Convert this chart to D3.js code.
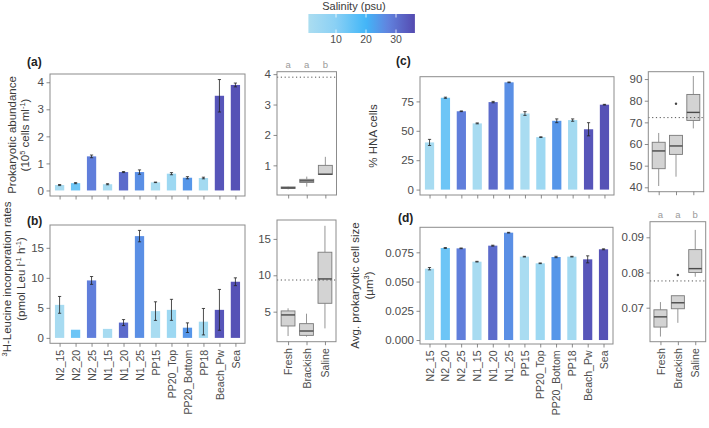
<!DOCTYPE html>
<html><head><meta charset="utf-8">
<script src="https://cdn.jsdelivr.net/npm/d3@7"></script>
<style>
html,body{margin:0;padding:0;background:#fff;}
svg{display:block;font-family:"Liberation Sans",Arial,Helvetica,sans-serif;}
</style></head>
<body>
<svg id="chart" width="709" height="428"></svg>
<script>
// ---------- DATA ----------
const sites = ["N2_15","N2_20","N2_25","N1_15","N1_20","N1_25","PP15","PP20_Top","PP20_Bottom","PP18","Beach_Pw","Sea"];
const salinity = [2, 14, 28, 2, 31, 25.5, 1.5, 4.5, 24.5, 3, 34.5, 35];

const abundance   = [0.20, 0.27, 1.26, 0.23, 0.68, 0.68, 0.30, 0.62, 0.47, 0.46, 3.50, 3.90];
const abundanceSE = [0.02, 0.02, 0.05, 0.02, 0.02, 0.08, 0.01, 0.04, 0.04, 0.03, 0.60, 0.07];

const leucine   = [5.5, 1.36, 9.57, 1.5, 2.55, 16.95, 4.46, 4.67, 1.7, 2.7, 4.67, 9.35];
const leucineSE = [1.4, 0, 0.65, 0, 0.5, 0.95, 1.55, 1.75, 0.8, 2.2, 3.4, 0.65];

const hna   = [40.1, 78.1, 66.6, 56.3, 74.4, 91.2, 64.7, 44.6, 58.5, 59.1, 51.3, 72.2];
const hnaSE = [2.6, 0.5, 0.3, 0.4, 0.6, 0.3, 1.6, 0.3, 1.6, 1.0, 5.6, 0.3];

const cellSize   = [0.0610, 0.0787, 0.0784, 0.0670, 0.0807, 0.0918, 0.0713, 0.0656, 0.0710, 0.0713, 0.0690, 0.0776];
const cellSizeSE = [0.0010, 0.0004, 0.0003, 0.0003, 0.0004, 0.0003, 0.0003, 0.0003, 0.0006, 0.0003, 0.0030, 0.0004];

const groups = ["Fresh","Brackish","Saline"];
// box stats: [lower whisker, q1, median, q3, upper whisker]
const abundanceBox = [[0.21,0.24,0.26,0.29,0.30],[0.30,0.435,0.49,0.54,0.63],[0.69,0.70,0.71,1.00,1.28]];
const abundanceOut = [[],[],[]];
const leucineBox = [[1.65,3.03,4.55,5.10,5.46],[1.56,1.74,2.34,3.35,4.72],[2.70,6.15,9.50,13.17,16.8]];
const leucineOut = [[],[],[]];
const hnaBox = [[40.6,48.6,56.8,60.8,65.1],[44.9,55.2,59.1,64.0,64.0],[67.2,70.9,74.6,82.9,91.4]];
const hnaOut = [[],[78.6],[]];
const cellSizeBox = [[0.0618,0.0645,0.0674,0.0694,0.0716],[0.0657,0.0697,0.0714,0.0734,0.0734],[0.0788,0.0800,0.0811,0.0865,0.0921]];
const cellSizeOut = [[],[0.0793],[]];

const abundanceLetters = ["a","a","b"];
const cellSizeLetters = ["a","a","b"];

const legendTicks = [10, 20, 30];
const legendRange = [0.8, 36.3];

// ---------- STYLE ----------
const svg = d3.select("#chart");
const colour = d3.scaleLinear()
  .domain([0, 10, 20, 27, 36])
  .range(["#9ad6ec", "#6cc4f2", "#12a4f6", "#3a66d8", "#2a1f9e"]);
const FILL_OP = 0.8;
const frameCol = "#8c8c8c", tickCol = "#6e6e6e", labelCol = "#4d4d4d";

function styleAxis(g, fs) {
  g.select(".domain").remove();
  g.selectAll(".tick line").attr("stroke", tickCol).attr("stroke-width", 0.8);
  g.selectAll(".tick text").attr("fill", labelCol).attr("font-size", fs).attr("font-family", "Liberation Sans, Arial, sans-serif");
}

function frame(x0, y0, x1, y1) {
  svg.append("rect").attr("x", x0).attr("y", y0).attr("width", x1 - x0).attr("height", y1 - y0)
    .attr("fill", "none").attr("stroke", frameCol).attr("stroke-width", 1);
}

function rotateLabels(g, off) {
  g.selectAll(".tick text")
    .attr("transform", "rotate(-90)")
    .attr("x", -off).attr("y", 0).attr("dy", "0.35em")
    .attr("text-anchor", "end");
}

function barPanel(cfg) {
  const [x0, y0, x1, y1] = cfg.box;
  const x = d3.scalePoint().domain(sites).range([x0, x1]).padding(0.6);
  const y = d3.scaleLinear().domain(cfg.domain).range([y1, y0]);
  const bw = x.step() * 0.58;
  const data = sites.map((s, i) => ({ s, v: cfg.values[i], se: cfg.se[i], sal: salinity[i] }));
  svg.append("g").selectAll("rect").data(data).join("rect")
    .attr("x", d => x(d.s) - bw / 2).attr("width", bw)
    .attr("y", d => y(d.v)).attr("height", d => y(0) - y(d.v))
    .attr("fill", d => colour(d.sal)).attr("fill-opacity", FILL_OP);
  const eb = svg.append("g").attr("stroke", "#222").attr("stroke-width", 0.8);
  data.filter(d => d.se > 0).forEach(d => {
    const cx = x(d.s);
    eb.append("line").attr("x1", cx).attr("x2", cx).attr("y1", y(d.v - d.se)).attr("y2", y(d.v + d.se));
    eb.append("line").attr("x1", cx - 1.6).attr("x2", cx + 1.6).attr("y1", y(d.v - d.se)).attr("y2", y(d.v - d.se));
    eb.append("line").attr("x1", cx - 1.6).attr("x2", cx + 1.6).attr("y1", y(d.v + d.se)).attr("y2", y(d.v + d.se));
  });
  frame(x0, y0, x1, y1);
  const ya = svg.append("g").attr("transform", `translate(${x0},0)`)
    .call(d3.axisLeft(y).tickValues(cfg.ticks).tickFormat(cfg.fmt).tickSize(3.5).tickPadding(2.5));
  styleAxis(ya, 11.5);
  const xa = svg.append("g").attr("transform", `translate(0,${y1})`)
    .call(d3.axisBottom(x).tickSize(3.5).tickPadding(2.5));
  styleAxis(xa, 10.5);
  if (cfg.labels) rotateLabels(xa, 6.5); else xa.selectAll(".tick text").remove();
}

function boxPanel(cfg) {
  const [x0, y0, x1, y1] = cfg.box;
  const x = d3.scalePoint().domain(groups).range([x0, x1]).padding(0.6);
  const y = d3.scaleLinear().domain(cfg.domain).range([y1, y0]);
  const bw = x.step() * 0.75;
  groups.forEach((gname, i) => {
    const [lo, q1, med, q3, hi] = cfg.stats[i];
    const cx = x(gname);
    const g = svg.append("g");
    g.append("line").attr("x1", cx).attr("x2", cx).attr("y1", y(lo)).attr("y2", y(q1)).attr("stroke", "#8a8a8a").attr("stroke-width", 0.9);
    g.append("line").attr("x1", cx).attr("x2", cx).attr("y1", y(q3)).attr("y2", y(hi)).attr("stroke", "#8a8a8a").attr("stroke-width", 0.9);
    g.append("rect").attr("x", cx - bw / 2).attr("width", bw).attr("y", y(q3)).attr("height", Math.max(y(q1) - y(q3), 0.5))
      .attr("fill", "#d3d3d3").attr("stroke", "#7a7a7a").attr("stroke-width", 0.9);
    g.append("line").attr("x1", cx - bw / 2).attr("x2", cx + bw / 2).attr("y1", y(med)).attr("y2", y(med))
      .attr("stroke", "#4a4a4a").attr("stroke-width", 1.4);
    cfg.out[i].forEach(o => g.append("circle").attr("cx", cx).attr("cy", y(o)).attr("r", 1.2).attr("fill", "#444"));
  });
  svg.append("line").attr("x1", x0).attr("x2", x1).attr("y1", y(cfg.ref)).attr("y2", y(cfg.ref))
    .attr("stroke", "#555").attr("stroke-width", 1).attr("stroke-dasharray", "1.2,2.6");
  frame(x0, y0, x1, y1);
  const ya = svg.append("g").attr("transform", `translate(${x0},0)`)
    .call(d3.axisLeft(y).tickValues(cfg.ticks).tickFormat(cfg.fmt).tickSize(3.5).tickPadding(2.5));
  styleAxis(ya, 11.5);
  const xa = svg.append("g").attr("transform", `translate(0,${y1})`)
    .call(d3.axisBottom(x).tickSize(3.5).tickPadding(2.5));
  styleAxis(xa, 10.5);
  if (cfg.labels) rotateLabels(xa, 6.5); else xa.selectAll(".tick text").remove();
  if (cfg.letters) {
    svg.append("g").selectAll("text").data(groups).join("text")
      .attr("x", d => x(d)).attr("y", y0 - 4).attr("text-anchor", "middle")
      .attr("font-size", 9.5).attr("fill", "#9a9a9a").text((d, i) => cfg.letters[i]);
  }
}

const fInt = d3.format("d");
const seaIdx = sites.indexOf("Sea");

// Panel (a)
barPanel({ box: [50, 74, 245, 196], domain: [-0.205, 4.305], values: abundance, se: abundanceSE, ticks: [0, 1, 2, 3, 4], fmt: fInt, labels: false });
boxPanel({ box: [277, 71.7, 336.5, 195], domain: [0.025, 4.08], stats: abundanceBox, out: abundanceOut, ref: abundance[seaIdx], ticks: [1, 2, 3, 4], fmt: fInt, labels: false, letters: abundanceLetters });
// Panel (b)
barPanel({ box: [50, 225, 245, 343.3], domain: [-0.9, 18.8], values: leucine, se: leucineSE, ticks: [0, 5, 10, 15], fmt: fInt, labels: true });
boxPanel({ box: [277, 220, 336, 341.7], domain: [0.87, 17.6], stats: leucineBox, out: leucineOut, ref: leucine[seaIdx], ticks: [5, 10, 15], fmt: fInt, labels: true });
// Panel (c)
barPanel({ box: [420, 76.7, 614, 195], domain: [-4.6, 96], values: hna, se: hnaSE, ticks: [0, 25, 50, 75], fmt: fInt, labels: false });
boxPanel({ box: [648.3, 71.7, 703.7, 191.7], domain: [37.97, 93.4], stats: hnaBox, out: hnaOut, ref: hna[seaIdx], ticks: [40, 50, 60, 70, 80, 90], fmt: fInt, labels: false });
// Panel (d)
barPanel({ box: [420, 227.3, 613, 344], domain: [-0.0034, 0.0964], values: cellSize, se: cellSizeSE, ticks: [0, 0.025, 0.05, 0.075], fmt: d3.format(".3f"), labels: true });
boxPanel({ box: [650, 221.7, 705.7, 341.7], domain: [0.06034, 0.09443], stats: cellSizeBox, out: cellSizeOut, ref: cellSize[seaIdx], ticks: [0.07, 0.08, 0.09], fmt: d3.format(".2f"), labels: true, letters: cellSizeLetters });

// ---------- titles ----------
function vtitle(x, y, lines, gap) {
  const t = svg.append("text").attr("transform", `translate(${x},${y}) rotate(-90)`)
    .attr("text-anchor", "middle").attr("font-size", 11.5).attr("fill", "#3a3a3a");
  lines.forEach((ln, i) => {
    const ts = t.append("tspan").attr("x", 0).attr("y", i * gap);
    ln.forEach(seg => {
      const s = ts.append("tspan").text(seg.t);
      if (seg.sup) s.attr("font-size", 7.5).attr("dy", -4);
      if (seg.down) s.attr("dy", 4);
    });
  });
}
vtitle(15.5, 135, [[{ t: "Prokaryotic abundance" }], [{ t: "(10" }, { t: "5", sup: 1 }, { t: " cells ml", down: 1 }, { t: "-1", sup: 1 }, { t: ")", down: 1 }]], 13);
vtitle(11, 279, [[{ t: "3", sup: 1 }, { t: "H-Leucine incorporation rates", down: 1 }], [{ t: "(pmol Leu l" }, { t: "-1", sup: 1 }, { t: " h", down: 1 }, { t: "-1", sup: 1 }, { t: ")", down: 1 }]], 13.5);
vtitle(377, 136, [[{ t: "% HNA cells" }]], 13);
vtitle(359, 285.5, [[{ t: "Avg. prokaryotic cell size" }], [{ t: "(µm" }, { t: "3", sup: 1 }, { t: ")", down: 1 }]], 14);

const panelLab = [["(a)", 27, 66], ["(b)", 27, 225], ["(c)", 396, 65], ["(d)", 398, 222]];
panelLab.forEach(([t, x, y]) => svg.append("text").attr("x", x).attr("y", y).attr("font-size", 12)
  .attr("font-weight", "bold").attr("fill", "#222").text(t));

// ---------- legend ----------
const lx = d3.scaleLinear().domain([0, 10]).range([306, 336]);
const defs = svg.append("defs");
const grad = defs.append("linearGradient").attr("id", "salgrad").attr("x1", "0%").attr("x2", "100%");
d3.range(0, 21).forEach(i => {
  const v = legendRange[0] + (legendRange[1] - legendRange[0]) * i / 20;
  grad.append("stop").attr("offset", (i * 5) + "%").attr("stop-color", colour(v));
});
svg.append("rect").attr("x", lx(legendRange[0])).attr("y", 14).attr("width", lx(legendRange[1]) - lx(legendRange[0])).attr("height", 19)
  .attr("fill", "url(#salgrad)").attr("fill-opacity", FILL_OP);
legendTicks.forEach(v => {
  svg.append("line").attr("x1", lx(v)).attr("x2", lx(v)).attr("y1", 14).attr("y2", 17.5).attr("stroke", "#fff").attr("stroke-width", 0.8);
  svg.append("line").attr("x1", lx(v)).attr("x2", lx(v)).attr("y1", 29.5).attr("y2", 33).attr("stroke", "#fff").attr("stroke-width", 0.8);
  svg.append("text").attr("x", lx(v)).attr("y", 43).attr("text-anchor", "middle").attr("font-size", 10.5).attr("fill", labelCol).text(v);
});
svg.append("text").attr("x", 354).attr("y", 10).attr("text-anchor", "middle").attr("font-size", 11).attr("fill", "#3a3a3a").text("Salinity (psu)");
</script>
</body></html>
